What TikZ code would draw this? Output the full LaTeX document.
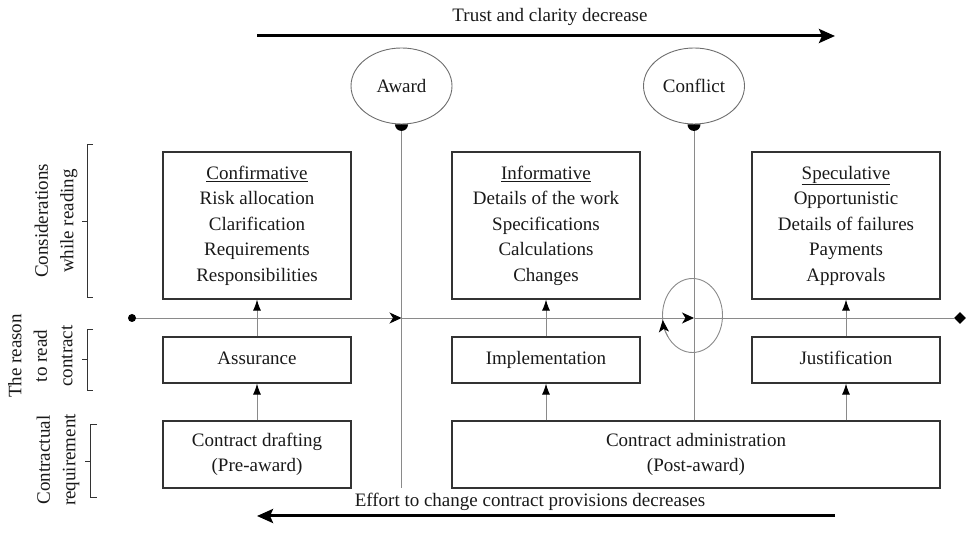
\documentclass[tikz,border=0pt]{standalone}
\usepackage{fontspec}
\setmainfont{Liberation Serif}
\usetikzlibrary{arrows.meta,shapes.geometric}
\definecolor{linec}{HTML}{8A8A8A}
\definecolor{boxc}{HTML}{333333}
\definecolor{ovalc}{HTML}{6E6E6E}
\begin{document}
\begin{tikzpicture}[x=1pt,y=1pt,
  every node/.style={font=\fontsize{19}{25.5}\selectfont, text=black!90},
  box/.style={draw=boxc, line width=1.2pt, inner sep=0pt, align=center},
  onebox/.style={box, minimum width=188pt, minimum height=46pt, text height=13pt, text depth=4pt},
  gline/.style={draw=linec, line width=0.9pt},
  uparrow/.style={gline, -{Latex[length=11pt,width=8pt,color=black]}},
  harrow/.style={gline, -{Stealth[length=12pt,width=11pt,inset=3.5pt,color=black]}},
  oval/.style={ellipse, draw=ovalc, line width=0.9pt, minimum width=101pt, minimum height=76pt, inner sep=0pt},
  brace/.style={draw=boxc, line width=0.8pt},
  bigarrow/.style={line width=3pt, -{Stealth[length=16pt,width=14pt,inset=3pt]}},
  sidelabel/.style={rotate=90, align=center}
]
\useasboundingbox (0,0) rectangle (969,548);

% top and bottom trend arrows
\coordinate (t1) at (257,512);
\coordinate (t2) at (835,512);
\draw[bigarrow] (t1) -- (t2);
\node (ttxt) at (550,531) {Trust and clarity decrease};
\coordinate (b1) at (835,32);
\coordinate (b2) at (257,32);
\draw[bigarrow] (b1) -- (b2);
\node (btxt) at (530,46) {Effort to change contract provisions decreases};

% milestones
\node[oval] (award) at (401.5,462) {Award};
\node[oval] (conflict) at (694,462) {Conflict};

% boxes
\node[box, minimum width=188pt, minimum height=147pt] (conf) at (257,322.5)
  {\underline{Confirmative}\\Risk allocation\\Clarification\\Requirements\\Responsibilities};
\node[box, minimum width=188pt, minimum height=147pt] (info) at (546,322.5)
  {\underline{Informative}\\Details of the work\\Specifications\\Calculations\\Changes};
\node[box, minimum width=188pt, minimum height=147pt] (spec) at (846,322.5)
  {\underline{Speculative}\\Opportunistic\\Details of failures\\Payments\\Approvals};

\node[onebox] (assur) at (257,188) {Assurance};
\node[onebox] (impl) at (546,188) {Implementation};
\node[onebox] (just) at (846,188) {Justification};

\node[box, minimum width=188pt, minimum height=67pt] (draft) at (257,93.5)
  {Contract drafting\\(Pre-award)};
\node[box, minimum width=488pt, minimum height=67pt] (admin) at (696,93.5)
  {Contract administration\\(Post-award)};

% vertical milestone lines
\coordinate (awardend) at (401.5,60);
\draw[gline] (award.south) -- (awardend);
\draw[gline] (conflict.south) -- (conflict.south |- admin.north);
\fill (award.south) ++(-6.5,0) arc[start angle=180,end angle=360,radius=6.5] -- cycle;
\fill (conflict.south) ++(-6.5,0) arc[start angle=180,end angle=360,radius=6.5] -- cycle;

% horizontal time line
\coordinate (hs) at (132,230);
\coordinate (ha) at (401.5,230);
\coordinate (hc) at (694,230);
\node[diamond, fill=black, minimum width=12pt, minimum height=12pt, inner sep=0pt] (dia) at (960,230) {};
\draw[harrow] (hs) -- (ha);
\draw[harrow] (ha) -- (hc);
\draw[gline] (hc) -- (dia.west);
\fill (hs) circle (4);

% loop at conflict
\coordinate (lc) at (692.5,232.5);
\draw[gline] (lc) ellipse [x radius=30, y radius=37];
\draw[gline, -{Stealth[length=12pt,width=10pt,inset=3pt,color=black]}]
  ([shift={(215:30 and 37)}]lc) arc[start angle=215, end angle=187, x radius=30, y radius=37];

% box arrows
\draw[uparrow] (draft.north) -- (assur.south);
\draw[uparrow] (assur.north) -- (conf.south);
\draw[uparrow] (admin.north -| impl.south) -- (impl.south);
\draw[uparrow] (impl.north) -- (info.south);
\draw[uparrow] (admin.north -| just.south) -- (just.south);
\draw[uparrow] (just.north) -- (spec.south);

% side labels
\node[sidelabel] (lab1) at (56,327) {Considerations\\while reading};
\node[sidelabel] (lab2) at (40.5,192) {The reason\\to read\\contract};
\node[sidelabel] (lab3) at (58,88) {Contractual\\requirement};

% brackets
\draw[brace] (93,404) -- (87,404) -- (87,251) -- (93,251);
\draw[brace] (87,327) -- (82,327);
\draw[brace] (93,219) -- (87,219) -- (87,158) -- (93,158);
\draw[brace] (87,189) -- (82,189);
\draw[brace] (97,124) -- (90,124) -- (90,51) -- (97,51);
\draw[brace] (90,87) -- (85,87);
\end{tikzpicture}
\end{document}
